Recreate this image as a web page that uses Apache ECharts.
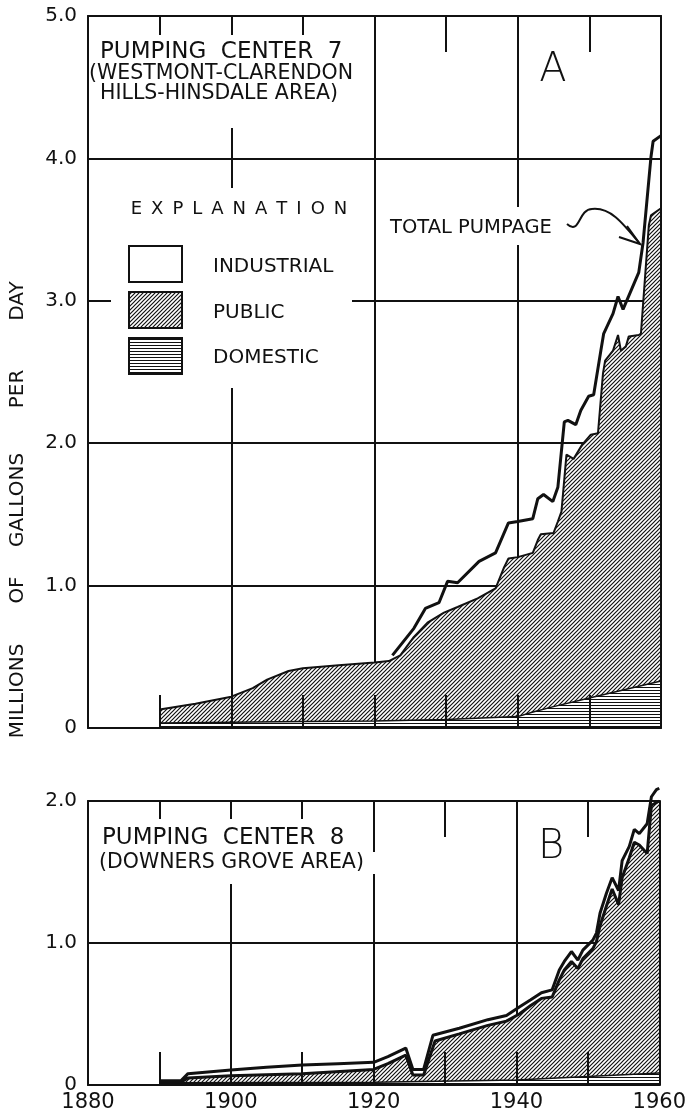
<!DOCTYPE html>
<html>
<head>
<meta charset="utf-8">
<script src="https://cdn.jsdelivr.net/npm/echarts@6/dist/echarts.min.js"></script>
<style>
html, body { margin: 0; padding: 0; background: #fff; }
#chart { width: 689px; height: 1117px; }
</style>
</head>
<body>
<div id="chart"></div>
<script>
// ---- data: [year, million gallons per day] ----
// A: pumping center 7 (cumulative boundaries of the stacked areas)
const domesticA = [[1890, 0.035], [1900, 0.04], [1910, 0.045], [1920, 0.05], [1930, 0.06], [1940, 0.08],
  [1942, 0.11], [1945, 0.15], [1950, 0.21], [1955, 0.27], [1960, 0.33]];
const publicA = [[1890, 0.13], [1895, 0.17], [1900, 0.22], [1903, 0.28], [1905, 0.34], [1908, 0.4], [1910, 0.42],
  [1915, 0.44], [1920, 0.46], [1922, 0.47], [1923.6, 0.51], [1925.5, 0.64], [1927.4, 0.74], [1929.7, 0.81],
  [1931.6, 0.85], [1934.4, 0.91], [1936.9, 0.98], [1938.1, 1.13], [1938.7, 1.19], [1940, 1.2], [1942.1, 1.23],
  [1942.8, 1.32], [1943.2, 1.36], [1945, 1.37], [1945.6, 1.45], [1946.1, 1.52], [1946.8, 1.92], [1947.8, 1.89],
  [1949, 1.99], [1950.2, 2.06], [1951.2, 2.07], [1951.9, 2.49], [1952.2, 2.58], [1953.3, 2.65], [1954, 2.76],
  [1954.4, 2.65], [1955.1, 2.68], [1955.5, 2.75], [1956.9, 2.76], [1957.2, 2.77], [1958.3, 3.53], [1958.6, 3.6],
  [1960, 3.65]];
const totalA = [[1922.5, 0.51], [1925.5, 0.7], [1927.1, 0.84], [1929, 0.88], [1930.2, 1.03], [1931.6, 1.02],
  [1934.6, 1.17], [1936.9, 1.23], [1938.7, 1.44], [1940, 1.45], [1942.1, 1.47], [1942.8, 1.61], [1943.6, 1.64],
  [1944.9, 1.59], [1945.6, 1.69], [1946.5, 2.15], [1947, 2.16], [1948.1, 2.13], [1948.8, 2.23], [1949.9, 2.33],
  [1950.6, 2.34], [1951.6, 2.65], [1952, 2.77], [1953.3, 2.91], [1954, 3.03], [1954.7, 2.94], [1956.9, 3.2],
  [1957.5, 3.41], [1958.6, 4.01], [1958.9, 4.12], [1960, 4.16]];

// B: pumping center 8
const domesticB = [[1890, 0.015], [1920, 0.02], [1940, 0.035], [1950, 0.06], [1960, 0.085]];
const publicB = [[1890, 0.02], [1893, 0.02], [1894, 0.05], [1900, 0.065], [1910, 0.08], [1920, 0.11], [1922, 0.15],
  [1924.5, 0.21], [1925.5, 0.07], [1927, 0.07], [1928.6, 0.31], [1932, 0.36], [1936, 0.42], [1938.6, 0.45],
  [1940.4, 0.5], [1942, 0.56], [1943.5, 0.61], [1945, 0.62], [1946, 0.74], [1946.7, 0.81], [1947.7, 0.87],
  [1948.6, 0.82], [1949.3, 0.89], [1950.7, 0.96], [1951.2, 1.01], [1951.7, 1.12], [1952.6, 1.26], [1953.4, 1.38],
  [1954.3, 1.27], [1954.8, 1.46], [1955.8, 1.6], [1956.5, 1.71], [1957.2, 1.69], [1958.3, 1.63], [1958.9, 1.97],
  [1960, 2.0]];
const totalB = [[1890, 0.03], [1893, 0.03], [1894, 0.08], [1900, 0.105], [1905, 0.125], [1910, 0.14], [1915, 0.15],
  [1920, 0.16], [1922, 0.2], [1924.5, 0.26], [1925.5, 0.11], [1927, 0.11], [1928.3, 0.35], [1932, 0.4], [1936, 0.46],
  [1938.6, 0.49], [1940.4, 0.55], [1942, 0.6], [1943.5, 0.65], [1945, 0.67], [1946, 0.81], [1946.7, 0.87],
  [1947.7, 0.94], [1948.6, 0.88], [1949.3, 0.95], [1950.7, 1.02], [1951.2, 1.07], [1951.7, 1.21], [1952.6, 1.35],
  [1953.4, 1.46], [1954.3, 1.37], [1954.8, 1.58], [1955.8, 1.68], [1956.5, 1.8], [1957.2, 1.77], [1958.3, 1.84],
  [1958.9, 2.03], [1959.6, 2.08], [1960, 2.09]];

const yMaxA = 5, yMaxB = 2;
const legendNames = ["INDUSTRIAL", "PUBLIC", "DOMESTIC"];

const INK = "#111";
const FONT = '"DejaVu Sans", sans-serif';
const LABEL_FONT = "DejaVu Sans";

// hatch patterns
function hatch(size, diagonal, lw) {
  const c = document.createElement("canvas");
  c.width = size; c.height = size;
  const ctx = c.getContext("2d");
  ctx.fillStyle = "#fff";
  ctx.fillRect(0, 0, size, size);
  ctx.strokeStyle = INK;
  ctx.lineWidth = lw;
  ctx.beginPath();
  if (diagonal) {
    ctx.moveTo(-1, size + 1); ctx.lineTo(size + 1, -1);
    ctx.moveTo(-1, 1); ctx.lineTo(1, -1);
    ctx.moveTo(size - 1, size + 1); ctx.lineTo(size + 1, size - 1);
  } else {
    ctx.moveTo(0, 0.5); ctx.lineTo(size, 0.5);
  }
  ctx.stroke();
  return { image: c, repeat: "repeat" };
}
const diagFill = hatch(4, true, 1.2);
const horizFill = hatch(3, false, 1);

// ticks drawn inward: outward direction with a negative length
function tick(len) {
  return { show: true, inside: false, length: -len, lineStyle: { color: INK, width: 2 } };
}
function minor(len) {
  return { show: true, splitNumber: 2, length: -len, lineStyle: { color: INK, width: 2 } };
}
const frame = { show: true, onZero: false, lineStyle: { color: INK, width: 2 } };

function xAxes(gridIndex, labels) {
  const bottom = {
    type: "value", gridIndex: gridIndex, min: 1880, max: 1960, interval: 20, z: 3, position: "bottom",
    axisLine: frame, axisTick: tick(33), minorTick: minor(33),
    splitLine: { show: true, lineStyle: { color: INK, width: 2 } },
    axisLabel: { show: labels, margin: 7, fontSize: 21, fontFamily: LABEL_FONT, color: INK, formatter: v => String(v) }
  };
  const top = {
    type: "value", gridIndex: gridIndex, min: 1880, max: 1960, interval: 20, z: 3, position: "top",
    axisLine: frame, axisTick: tick(36), minorTick: minor(36),
    splitLine: { show: false }, axisLabel: { show: false }
  };
  return [bottom, top];
}

function yAxes(gridIndex, max) {
  return [{
    type: "value", gridIndex: gridIndex, min: 0, max: max, interval: 1, z: 3, position: "left",
    axisLine: frame, axisTick: tick(22),
    splitLine: { show: true, lineStyle: { color: INK, width: 2 } },
    axisLabel: { margin: 11, fontSize: 20, fontFamily: LABEL_FONT, color: INK,
      formatter: v => (v === 0 ? "0" : v.toFixed(1)) }
  }, {
    type: "value", gridIndex: gridIndex, min: 0, max: max, interval: 1, z: 3, position: "right",
    axisLine: frame, axisTick: { show: false }, splitLine: { show: false }, axisLabel: { show: false }
  }];
}

function areaSeries(data, xi, yi, fill, width) {
  return {
    type: "line", data: data, xAxisIndex: xi, yAxisIndex: yi, symbol: "none", showSymbol: false,
    lineStyle: { color: INK, width: width }, areaStyle: { color: fill, opacity: 1 }
  };
}
function lineSeries(data, xi, yi, width) {
  return {
    type: "line", data: data, xAxisIndex: xi, yAxisIndex: yi, symbol: "none", showSymbol: false,
    clip: false, lineStyle: { color: INK, width: width }
  };
}

function txt(x, y, text, size, opts) {
  opts = opts || {};
  return {
    type: "text", x: x, y: y, z: 60, rotation: opts.rotation || 0,
    style: {
      text: text, fill: INK, font: (opts.weight || "normal") + " " + size + "px " + FONT,
      align: opts.align || "left", verticalAlign: "middle",
      textAlign: opts.align || "left", textVerticalAlign: "middle"
    }
  };
}
function mask(x, y, w, h) {
  return { type: "rect", z: 50, shape: { x: x, y: y, width: w, height: h }, style: { fill: "#fff" } };
}
function box(y, fill) {
  return { type: "rect", z: 60, shape: { x: 129, y: y, width: 53, height: 36 },
    style: { fill: fill, stroke: INK, lineWidth: 2 } };
}

const graphics = [
  // gaps in the grid behind the lettering
  mask(90, 35, 273, 93),
  mask(111, 188, 241, 200),
  mask(386, 207, 182, 38),
  mask(90, 819, 273, 65),
  mask(363, 852, 38, 22),

  txt(100, 52, "PUMPING  CENTER  7", 23),
  txt(89, 74, "(WESTMONT-CLARENDON", 20.5),
  txt(100, 94, "HILLS-HINSDALE AREA)", 20.5),
  txt(553, 71, "A", 40, { align: "center", weight: "lighter" }),

  txt(239, 209, "E\u2002X\u2002P\u2002L\u2002A\u2002N\u2002A\u2002T\u2002I\u2002O\u2002N", 18, { align: "center" }),
  box(246, "#fff"), box(292, diagFill), box(338, horizFill),
  txt(213, 267, legendNames[0], 20),
  txt(213, 313, legendNames[1], 20),
  txt(213, 358, legendNames[2], 20),

  txt(390, 228, "TOTAL PUMPAGE", 19.5),
  { type: "bezierCurve", z: 60,
    shape: { x1: 567, y1: 224, cpx1: 580, cpy1: 236, cpx2: 578, cpy2: 209, x2: 592, y2: 209 },
    style: { fill: null, stroke: INK, lineWidth: 2 } },
  { type: "bezierCurve", z: 60,
    shape: { x1: 592, y1: 209, cpx1: 610, cpy1: 207, cpx2: 622, cpy2: 222, x2: 640, y2: 244 },
    style: { fill: null, stroke: INK, lineWidth: 2 } },
  { type: "polyline", z: 60, shape: { points: [[627, 226], [640, 244], [619, 237]] },
    style: { fill: null, stroke: INK, lineWidth: 2 } },

  txt(102, 838, "PUMPING  CENTER  8", 23),
  txt(99, 863, "(DOWNERS GROVE AREA)", 20.5),
  txt(551, 848, "B", 40, { align: "center", weight: "lighter" }),

  // vertical axis title, word by word
  txt(18, 301, "DAY", 20, { align: "center", rotation: Math.PI / 2 }),
  txt(18, 389, "PER", 20, { align: "center", rotation: Math.PI / 2 }),
  txt(18, 500, "GALLONS", 20, { align: "center", rotation: Math.PI / 2 }),
  txt(18, 590, "OF", 20, { align: "center", rotation: Math.PI / 2 }),
  txt(18, 691, "MILLIONS", 20, { align: "center", rotation: Math.PI / 2 })
];

const chart = echarts.init(document.getElementById("chart"), null, { renderer: "canvas" });
chart.setOption({
  animation: false,
  backgroundColor: "#fff",
  grid: [
    { left: 88, right: 28, top: 16, height: 712 },
    { left: 88, right: 28, top: 801, height: 284 }
  ],
  xAxis: xAxes(0, false).concat(xAxes(1, true)),
  yAxis: yAxes(0, yMaxA).concat(yAxes(1, yMaxB)),
  series: [
    areaSeries(publicA, 0, 0, diagFill, 2),
    areaSeries(domesticA, 0, 0, horizFill, 1.5),
    lineSeries(totalA, 0, 0, 3),
    areaSeries(publicB, 2, 2, diagFill, 3),
    areaSeries(domesticB, 2, 2, horizFill, 1.5),
    lineSeries(totalB, 2, 2, 3)
  ],
  graphic: { elements: graphics }
});
</script>
</body>
</html>
